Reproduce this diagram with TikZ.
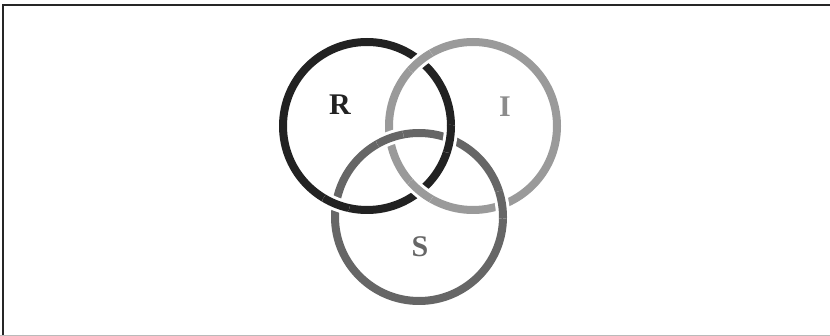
\documentclass[tikz,border=0pt]{standalone}
\usepackage{fontspec}
\setmainfont{Liberation Serif}
\usetikzlibrary{intersections}
\definecolor{ringR}{HTML}{222222}
\definecolor{ringI}{HTML}{9A9A9A}
\definecolor{ringS}{HTML}{666666}
\definecolor{labI}{HTML}{8C8C8C}
\begin{document}
\begin{tikzpicture}[x=1pt,y=-1pt,
  ring/.style={line width=8pt},
  halo/.style={white,line width=14pt},
  lab/.style={font=\fontsize{30}{32}\selectfont\bfseries,inner sep=0pt}]
\useasboundingbox (0,0) rectangle (830,336);
% frame
\draw[line width=1.6pt,black!85] (2.7,336) -- (2.7,5) -- (830,5);
\draw[line width=1.2pt,black!27] (0,335.4) -- (830,335.4);
% centres
\coordinate (cR) at (367,126);
\coordinate (cI) at (473,126);
\coordinate (cS) at (419,217);
\def\rr{84}
% rings
\draw[ring,ringR,name path=R] (cR) circle (\rr);
\draw[ring,ringI,name path=I] (cI) circle (\rr);
\draw[ring,ringS,name path=S] (cS) circle (\rr);
% crossings
\path[name intersections={of=R and I,by={ri1,ri2}}];
\path[name intersections={of=R and S,by={rs1,rs2}}];
\path[name intersections={of=S and I,by={si1,si2}}];
% I over R
\foreach \p in {ri1,ri2}{
  \begin{scope}
    \clip (\p) circle (14);
    \draw[halo] (cI) circle (\rr);
    \draw[ring,ringI] (cI) circle (\rr);
  \end{scope}}
% R over S
\foreach \p in {rs1,rs2}{
  \begin{scope}
    \clip (\p) circle (14);
    \draw[halo] (cR) circle (\rr);
    \draw[ring,ringR] (cR) circle (\rr);
  \end{scope}}
% S over I
\foreach \p in {si1,si2}{
  \begin{scope}
    \clip (\p) circle (14);
    \draw[halo] (cS) circle (\rr);
    \draw[ring,ringS] (cS) circle (\rr);
  \end{scope}}
% labels
\node[lab,text=ringR] (lR) at (340,105) {R};
\node[lab,text=labI] (lI) at (505,107) {I};
\node[lab,text=ringS] (lS) at (420,247) {S};
\end{tikzpicture}
\end{document}
